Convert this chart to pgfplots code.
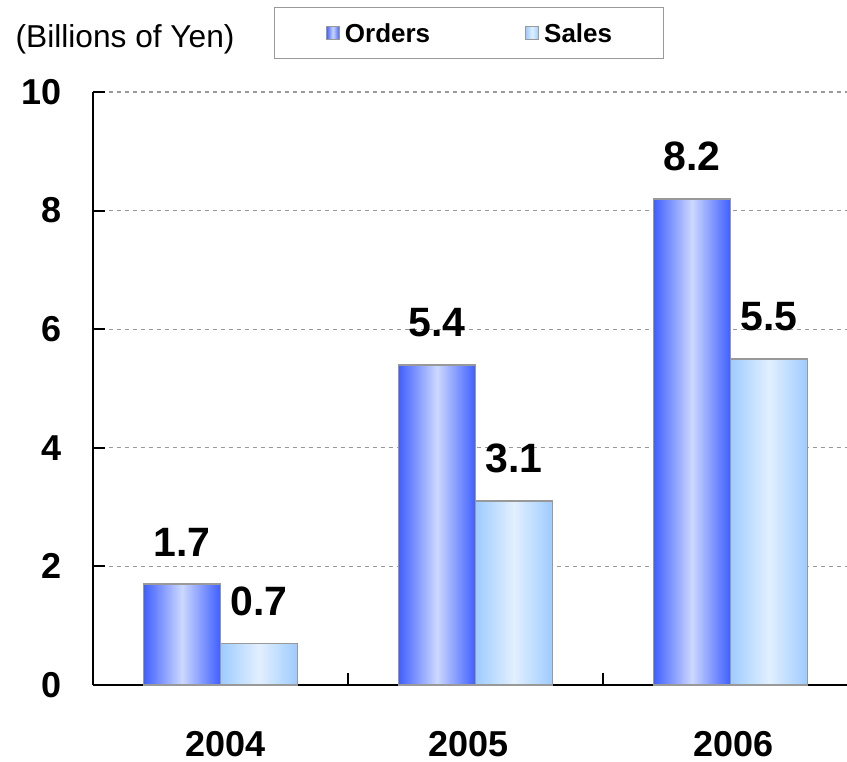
\documentclass[border=0pt]{standalone}
\usepackage{fontspec}
\setmainfont{Liberation Sans}
\usepackage{graphicx}
\usepackage{pgfplots}
\pgfplotsset{compat=1.18}

\definecolor{ordD}{HTML}{3F5FFF}
\definecolor{ordL}{HTML}{CCD8FF}
\definecolor{salD}{HTML}{9ECBFF}
\definecolor{salL}{HTML}{E2F0FF}
\definecolor{gridc}{HTML}{999999}

% each bar is its own plot so that every bar gets its own shading
\pgfplotsset{
  sq legend/.style={legend image code/.code={%
    \draw[##1, line width=0.3pt] (0pt,-1.95pt) rectangle (3.9pt,1.95pt);}},
  ord/.style={ybar, bar width=23.1pt, bar shift=-11.55pt,
    draw=gridc, line width=0.5pt,
    left color=ordD, right color=ordD, middle color=ordL, sq legend,
    nodes near coords style={xshift=-11.55pt}},
  sal/.style={ybar, bar width=23.1pt, bar shift=11.55pt,
    draw=gridc, line width=0.5pt,
    left color=salD, right color=salD, middle color=salL, sq legend,
    nodes near coords style={xshift=11.55pt}},
}

\begin{document}
\begin{tikzpicture}
\begin{axis}[
    scale only axis,
    width=226.2pt, height=177.9pt,
    xmin=-0.5, xmax=2.457,
    ymin=0, ymax=10,
    axis x line*=bottom, axis y line*=left,
    axis line style={line width=0.6pt},
    tick align=inside,
    major tick length=3.6pt, minor tick length=3.6pt,
    tick style={black, line width=0.6pt},
    major x tick style={draw=none},
    xtick={0,1,2},
    minor xtick={0.5,1.5},
    xticklabels={{\hspace*{3pt}2004},{2005\hspace*{4pt}},{\hspace*{2pt}\raisebox{1.5pt}{2006}}},
    xticklabel style={anchor=north, inner sep=0pt, yshift=-13.8pt,
        font=\bfseries\fontsize{10.8}{12}\selectfont},
    ytick={0,2,...,10},
    yticklabel style={anchor=east, inner sep=0pt, xshift=-9.3pt,
        font=\bfseries\fontsize{10.8}{12}\selectfont},
    /pgf/number format/assume math mode=true,
    ymajorgrids=true,
    grid style={gridc, line width=0.4pt, dash pattern=on 1.2pt off 1.2pt},
    clip=false,
    nodes near coords={\pgfmathprintnumber[fixed,precision=1,fixed zerofill]{\pgfplotspointmeta}},
    nodes near coords style={anchor=south, inner sep=0pt, yshift=8.1pt,
        font=\bfseries\fontsize{12.3}{14}\selectfont},
    legend columns=2,
    legend cell align=left,
    legend style={at={(0.4987,1)}, anchor=center, yshift=17.7pt,
        draw=gridc, line width=0.3pt,
        inner xsep=15.5pt, inner ysep=4.8pt,
        font=\bfseries\fontsize{7.8}{9}\selectfont,
        nodes={inner sep=0pt, text height=5.6pt, text depth=0pt},
        /tikz/every odd column/.append style={column sep=1.5pt},
        /tikz/every even column/.append style={column sep=28.5pt}},
]
\addplot[ord] coordinates {(0,1.7)};
\addlegendentry{Orders}
\addplot[sal] coordinates {(0,0.7)};
\addlegendentry{Sales}
\addplot[ord, forget plot] coordinates {(1,5.4)};
\addplot[ord, forget plot] coordinates {(2,8.2)};
\addplot[sal, forget plot] coordinates {(1,3.1)};
\addplot[sal, forget plot] coordinates {(2,5.5)};
\coordinate (O) at (rel axis cs:0,0);
\node[anchor=base west, inner sep=0pt, font=\fontsize{9.5}{11}\selectfont]
    at ([xshift=-23.4pt,yshift=13.5pt]rel axis cs:0,1) {(Billions of Yen)};
\end{axis}
\pgfresetboundingbox
\path ([shift={(-27.9pt,-22.8pt)}]O) rectangle ([shift={(226.2pt,205.5pt)}]O);
\end{tikzpicture}
\end{document}
